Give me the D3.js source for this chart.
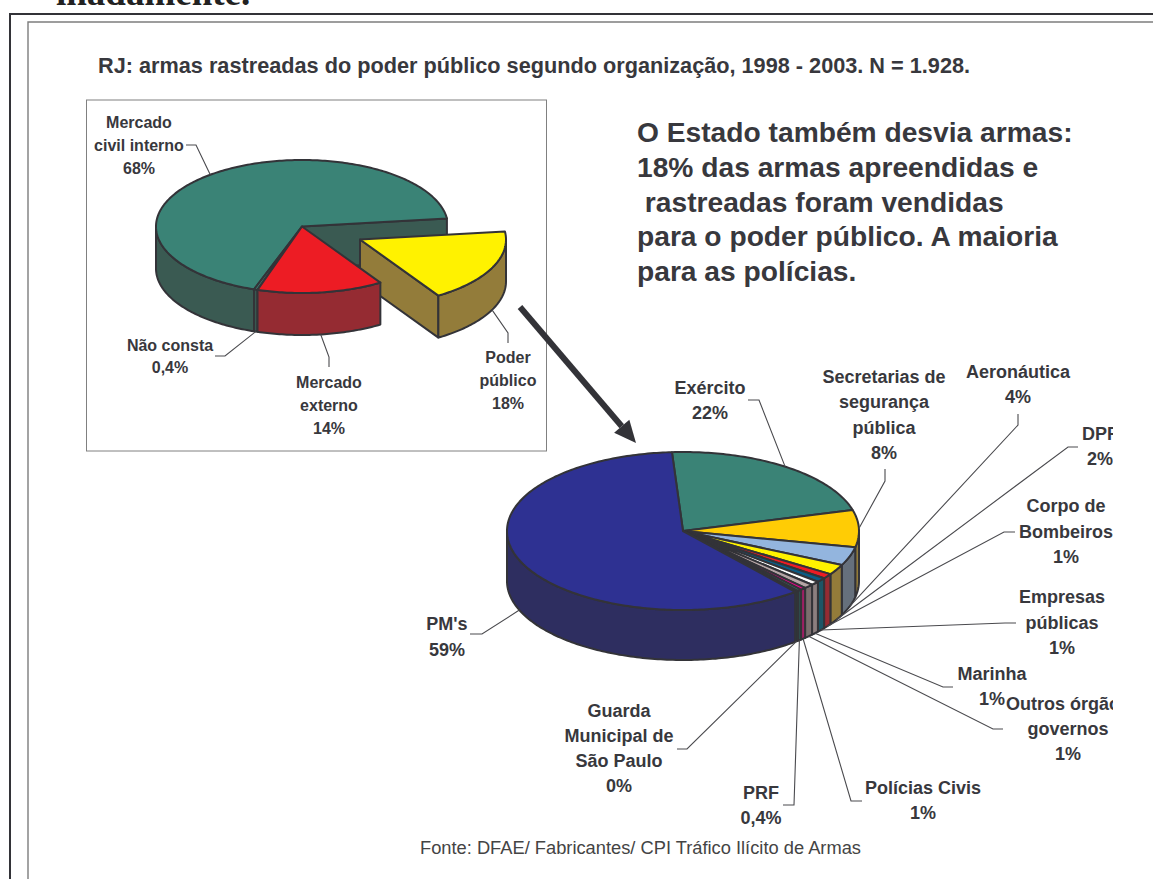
<!DOCTYPE html>
<html><head><meta charset="utf-8">
<script src="https://cdnjs.cloudflare.com/ajax/libs/d3/7.8.5/d3.min.js"></script>
<style>html,body{margin:0;padding:0;background:#fff;overflow:hidden}svg{display:block}text{font-family:"Liberation Sans",Arial,sans-serif}</style>
</head><body><div id="c"></div>
<script>
// ---- data: small pie (clockwise from the cut at upper right)
const originNames  = ["Poder público","Mercado externo","Não consta","Mercado civil interno"];
const originValues = [18,14,0.4,68];
const originLabels = [["Poder","público","18%"],["Mercado","externo","14%"],["Não consta","0,4%"],["Mercado","civil interno","68%"]];
const originTop    = ["#FFF200","#ED1C24","#3A8376","#3A8376"];
const originSide   = ["#937C3A","#952B32","#3A5A52","#3A5A52"];
// ---- data: large pie
const bodyNames  = ["Exército","Secretarias de segurança pública","Aeronáutica","DPF","Corpo de Bombeiros","Empresas públicas","Marinha","Outros órgãos governos","Polícias Civis","PRF","Guarda Municipal de São Paulo","PM's"];
const bodyValues = [21.7,7.6,3.8,2.1,1,0.9,0.8,0.9,0.5,0.4,0.3,60];
const bodyLabels = [["Exército","22%"],["Secretarias de","segurança","pública","8%"],["Aeronáutica","4%"],["DPF","2%"],["Corpo de","Bombeiros","1%"],["Empresas","públicas","1%"],["Marinha","1%"],["Outros órgãos","governos","1%"],["Polícias Civis","1%"],["PRF","0,4%"],["Guarda","Municipal de","São Paulo","0%"],["PM's","59%"]];
const bodyTop  = ["#3A8376","#FFCC05","#93B5DE","#FFF200","#ED1C24","#0B5C85","#FFFFFF","#B5A5A5","#EC008C","#2D7F6F","#333338","#2E3192"];
const bodySide = ["#3A5A52","#937C3A","#66707C","#937C3A","#952B32","#1D5566","#8C7F7F","#7B6E6E","#9E1F63","#2E4A4A","#2A3A3A","#2E2E60"];
const titleText = "RJ: armas rastreadas do poder público segundo organização, 1998 - 2003. N = 1.928.";
const calloutLines = ["O Estado também desvia armas:","18% das armas apreendidas e"," rastreadas foram vendidas","para o poder público. A maioria","para as polícias."];
const sourceText = "Fonte: DFAE/ Fabricantes/ CPI Tráfico Ilícito de Armas";
const headerText = "inadamente.";

// ---- layout
const W=1153,H=879, INK="#333338", TXT="#38383d", LEAD="#4a4a4e";
const svg=d3.select("#c").append("svg").attr("width",W).attr("height",H).attr("viewBox",`0 0 ${W} ${H}`);
svg.append("defs").append("clipPath").attr("id","clipR").append("rect").attr("x",0).attr("y",0).attr("width",1113).attr("height",H);

const originGeo={cx:302,cy:226.5,rx:146,ry:66.5,depth:42,start:83};
const bodyGeo={cx:683,cy:531,rx:176,ry:79,depth:50,start:-3.6};
const originLayout=[
 {x:508,y:363,gap:23,lead:[[508,343],[508,333]],exp:[58,13]},
 {x:329,y:388,gap:23,lead:[[329,367],[329,357]]},
 {x:170,y:351,gap:22,lead:[[215,356],[225,356]]},
 {x:139,y:128,gap:23,lead:[[186,145],[196,145]]}];
const bodyLayout=[
 {x:710,y:394,gap:25,lead:[[748,400],[759,400]]},
 {x:884,y:383,gap:25.3,lead:[[885,469],[885,481]]},
 {x:1018,y:378,gap:25,lead:[[1018,414],[1018,425]]},
 {x:1100,y:440,gap:25,lead:[[1078,447],[1068,447]]},
 {x:1066,y:512,gap:25.5,lead:[[1015,532],[1004,532]]},
 {x:1062,y:603,gap:25.5,lead:[[1016,623],[1005,623]]},
 {x:992,y:680,gap:25,lead:[[953,687],[943,687]]},
 {x:1068,y:710,gap:25,lead:[[1003,729],[993,729]]},
 {x:923,y:794,gap:25,lead:[[862,801],[851,801]]},
 {x:761,y:799,gap:25,lead:[[783,805],[794,805]]},
 {x:619,y:717,gap:25,lead:[[677,749],[687,749]]},
 {x:447,y:630,gap:26,lead:[[470,634],[482,634]]}];

const deg=Math.PI/180, line=d3.line();
function slices(values,geo){
  return d3.pie().sort(null).startAngle(geo.start*deg).endAngle(geo.start*deg+2*Math.PI)(values);
}
function proj(g,t,off=[0,0],drop=0){return [g.cx+off[0]+g.rx*Math.sin(t),g.cy+off[1]-g.ry*Math.cos(t)+drop];}
function arcPts(g,a,b,off,drop){const n=Math.max(2,Math.ceil(Math.abs(b-a)/(1*deg)));return d3.range(n+1).map(i=>proj(g,a+(b-a)*i/n,off,drop));}
const strokeIt=s=>s.attr("stroke",INK).attr("stroke-width",2).attr("stroke-linejoin","round");
function drawOuterWall(p,g,d,color,off){
  // the visible part of the rim runs between 90° and 270° of the ellipse
  const ranges=[[90,270],[450,630]];
  ranges.forEach(([lo,hi])=>{
    const a=Math.max(d.startAngle,lo*deg),b=Math.min(d.endAngle,hi*deg);
    if(b<=a)return;
    const pts=arcPts(g,a,b,off,0).concat(arcPts(g,b,a,off,g.depth));
    strokeIt(p.append("path").attr("d",line(pts)+"Z").attr("fill",color));
  });
}
function drawCutWall(p,g,t,color,off){
  const c=[g.cx+off[0],g.cy+off[1]],o=proj(g,t,off,0);
  strokeIt(p.append("path").attr("d",line([c,o,[o[0],o[1]+g.depth],[c[0],c[1]+g.depth]])+"Z").attr("fill",color));
}
function drawTop(p,g,d,color,off){
  const c=[g.cx+off[0],g.cy+off[1]];
  strokeIt(p.append("path").attr("d",line([c,...arcPts(g,d.startAngle,d.endAngle,off,0)])+"Z").attr("fill",color));
}
function drawLabels(p,layout,labels,size){
  labels.forEach((lines,i)=>{
    const L=layout[i];
    lines.forEach((s,k)=>p.append("text").attr("x",L.x).attr("y",L.y+k*L.gap).attr("text-anchor","middle")
      .attr("font-size",size).attr("font-weight","700").attr("fill",TXT).text(s));
  });
}
function drawLeaders(p,layout,arcs,g){
  arcs.forEach((d,i)=>{
    const L=layout[i],off=L.exp||[0,0];
    const t=(d.startAngle+d.endAngle)/2,nt=((t/deg)%360+360)%360;
    const anchor=proj(g,t,off,nt>90&&nt<270?g.depth:0);
    p.append("path").attr("d",line([...L.lead,anchor])).attr("fill","none").attr("stroke",LEAD).attr("stroke-width",1.1);
  });
}

// ---- page furniture
svg.append("text").attr("x",56).attr("y",5).attr("font-size",37).attr("font-weight","700").attr("fill","#222")
  .style("font-family","'Liberation Serif',serif").text(headerText);
[[10,14,2,"#333338"],[28,22,1.4,"#7d7d7d"]].forEach(([x,y,w,c])=>{
  svg.append("path").attr("d",line([[x,H],[x,y],[W,y]])).attr("fill","none").attr("stroke",c).attr("stroke-width",w);
});
svg.append("text").attr("x",98).attr("y",72.5).attr("font-size",21.7).attr("font-weight","700").attr("fill",TXT).text(titleText);
svg.append("rect").attr("x",86.5).attr("y",100).attr("width",460).attr("height",351).attr("fill","none").attr("stroke","#808080").attr("stroke-width",1);

// ---- small pie
{
  const g=originGeo,arcs=slices(originValues,g),p=svg.append("g");
  const [yel,red,nao,grn]=arcs, exp=originLayout[0].exp, none=[0,0];
  drawOuterWall(p,g,grn,originSide[3],none);
  drawCutWall(p,g,grn.endAngle,originSide[3],none);
  drawTop(p,g,grn,originTop[3],none);
  drawCutWall(p,g,yel.endAngle,originSide[0],exp);
  drawOuterWall(p,g,yel,originSide[0],exp);
  drawTop(p,g,yel,originTop[0],exp);
  drawOuterWall(p,g,nao,originSide[2],none);
  drawTop(p,g,nao,originTop[2],none);
  drawOuterWall(p,g,red,originSide[1],none);
  drawTop(p,g,red,originTop[1],none);
  drawLeaders(p,originLayout,arcs,g);
  drawLabels(svg.append("g"),originLayout,originLabels,16);
}
// ---- callout
const calloutY=[142,177,212,246,281];
calloutLines.forEach((s,i)=>svg.append("text").attr("x",637).attr("y",calloutY[i]).style("white-space","pre")
  .attr("font-size",28.2).attr("font-weight","700").attr("fill",TXT).text(s));
// ---- arrow
{
  const from=[520,307],to=[636,443];
  const a=Math.atan2(to[1]-from[1],to[0]-from[0]),ux=Math.cos(a),uy=Math.sin(a),len=22,hw=10;
  const base=[to[0]-ux*len,to[1]-uy*len];
  svg.append("path").attr("d",line([from,base])).attr("stroke",INK).attr("stroke-width",6);
  svg.append("path").attr("d",line([to,[base[0]-uy*hw,base[1]+ux*hw],[base[0]+uy*hw,base[1]-ux*hw]])+"Z").attr("fill",INK);
}
// ---- large pie
{
  const g=bodyGeo,arcs=slices(bodyValues,g),p=svg.append("g"),none=[0,0];
  arcs.forEach((d,i)=>drawOuterWall(p,g,d,bodySide[i],none));
  arcs.forEach((d,i)=>drawTop(p,g,d,bodyTop[i],none));
  drawLeaders(p,bodyLayout,arcs,g);
  drawLabels(svg.append("g").attr("clip-path","url(#clipR)"),bodyLayout,bodyLabels,18);
}
svg.append("text").attr("x",420).attr("y",854).attr("font-size",18.3).attr("fill","#444").text(sourceText);
</script></body></html>
